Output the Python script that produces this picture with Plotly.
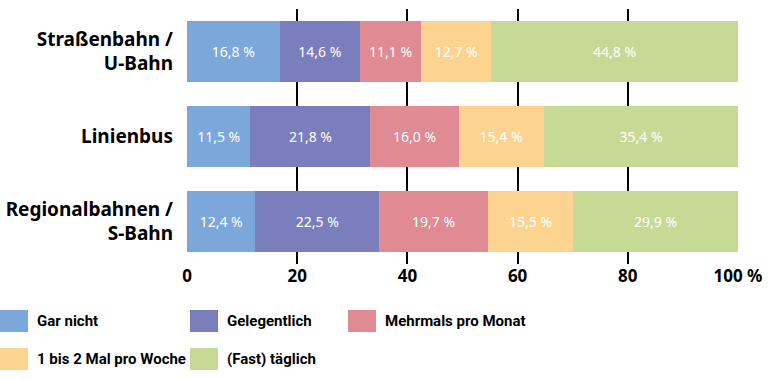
import plotly.graph_objects as go

categories = ["Straßenbahn /<br>U-Bahn", "Linienbus", "Regionalbahnen /<br>S-Bahn"]
series_names = ["Gar nicht", "Gelegentlich", "Mehrmals pro Monat", "1 bis 2 Mal pro Woche", "(Fast) täglich"]
gar_nicht = [16.8, 11.5, 12.4]
gelegentlich = [14.6, 21.8, 22.5]
mehrmals = [11.1, 16.0, 19.7]
woche = [12.7, 15.4, 15.5]
taeglich = [44.8, 35.4, 29.9]
tick_vals = [0, 20, 40, 60, 80, 100]
tick_text = ["0", "20", "40", "60", "80", "100 %"]

colors = ["#7BA7DB", "#7A7EBC", "#E08A93", "#FCD490", "#C6DA96"]
series = [gar_nicht, gelegentlich, mehrmals, woche, taeglich]

fig = go.Figure()
for name, vals, col in zip(series_names, series, colors):
    fig.add_trace(go.Bar(
        y=categories, x=vals, orientation="h", name=name,
        marker=dict(color=col, line=dict(width=0)),
        text=[f"{v:.1f} %".replace(".", ",") for v in vals],
        textposition="inside", insidetextanchor="middle",
        textfont=dict(color="white", size=14, family="Noto Sans"),
        showlegend=False, hoverinfo="skip",
    ))

L, R, T, B = 187, 738, 9, 264
W, H = 768, 379

def px2x(px):
    return (px - L) / (R - L)

def py2y(py):
    return (B - py) / (B - T)

legend_pos = [(0, 310), (190, 310), (348, 310), (0, 348), (190, 348)]
shapes = []
annotations = []
for (lx, ly), name, col in zip(legend_pos, series_names, colors):
    shapes.append(dict(type="rect", xref="paper", yref="paper",
                       x0=px2x(lx), x1=px2x(lx + 28), y0=py2y(ly + 22), y1=py2y(ly),
                       fillcolor=col, line=dict(width=0)))
    annotations.append(dict(xref="paper", yref="paper", x=px2x(lx + 35), y=py2y(ly + 11),
                            text=name, showarrow=False, xanchor="left", yanchor="middle",
                            font=dict(size=15, color="black", family="Roboto", weight="bold")))

fig.update_layout(
    barmode="stack", bargap=0.28,
    width=W, height=H,
    margin=dict(l=L, r=W - R, t=T, b=H - B, autoexpand=False),
    plot_bgcolor="white", paper_bgcolor="white",
    xaxis=dict(range=[0, 100], tickvals=tick_vals, ticktext=tick_text,
               showgrid=True, gridcolor="black", gridwidth=1.5, zeroline=False,
               showline=False, ticks="", automargin=False,
               tickfont=dict(size=17, color="black", family="Noto Sans", weight="bold"),
               fixedrange=True),
    yaxis=dict(autorange="reversed", showgrid=False, ticks="", ticklabelstandoff=13,
               automargin=False,
               tickfont=dict(size=19, color="black", family="Noto Sans", weight="bold")),
    shapes=shapes, annotations=annotations,
    font=dict(family="Noto Sans"),
)

fig.write_html("out.html", post_script="document.body.style.margin='0';",
               config={"displayModeBar": False})
